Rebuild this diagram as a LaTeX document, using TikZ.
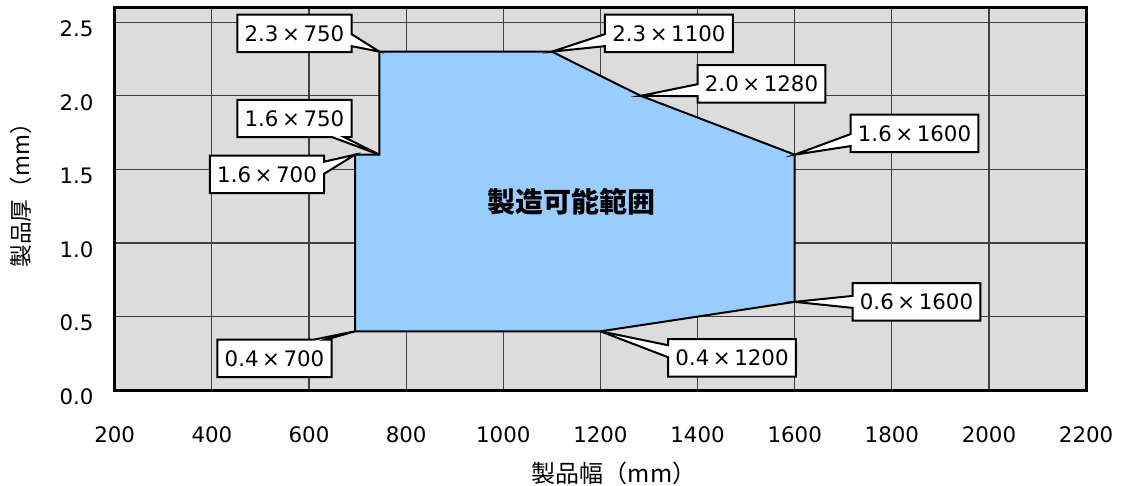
\documentclass[tikz,border=0pt]{standalone}
\usepackage{fontspec}
\setmainfont{Noto Sans CJK JP}
\newfontfamily\numfont{DejaVu Sans}
\usepackage{tikz}
\usetikzlibrary{shapes.callouts}
\usetikzlibrary{positioning}
\definecolor{plotgray}{HTML}{DCDCDC}
\definecolor{regionblue}{HTML}{99CCFF}
\definecolor{gridgray}{HTML}{404040}
\tikzset{
    dimbox/.style={
           rectangle callout,
           draw=black, line width=1.5pt,
           fill=white,
           minimum height=27pt,
           inner xsep=5.5pt, inner ysep=8pt,
           callout pointer width=9pt,
           font=\numfont\fontsize{16}{18}\selectfont,
           text centered,
           },
    gridline/.style={gridgray, line width=0.8pt},
    ticklabel/.style={font=\numfont\fontsize{16}{18}\selectfont, inner sep=0pt},
}
\newcommand{\dimtext}[2]{#1\,×\,#2}

\begin{document}
\begin{tikzpicture}[x=0.3643pt,y=110.4pt]
      \useasboundingbox (-36.2,-0.650) rectangle (2298.6,2.651);
      \fill[plotgray] (200,0) rectangle (2200,2.6);
      \foreach \x in {400,600,...,2000}
        \draw[gridline] (\x,0) -- (\x,2.6);
      \foreach \y in {0.5,1.0,1.5,2.0,2.5}
        \draw[gridline] (200,\y) -- (2200,\y);
      % vertices of the region
      \coordinate (v_0) at (695,0.4);
      \coordinate (v_1) at (695,1.6);
      \coordinate (v_2) at (745,1.6);
      \coordinate (v_3) at (745,2.3);
      \coordinate (v_4) at (1100,2.3);
      \coordinate (v_5) at (1283,2.0);
      \coordinate (v_6) at (1600,1.6);
      \coordinate (v_7) at (1600,0.6);
      \coordinate (v_8) at (1200,0.4);
      \draw[fill=regionblue, line width=1.5pt, line join=miter]
        (v_0) -- (v_1) -- (v_2) -- (v_3) -- (v_4) -- (v_5) -- (v_6) -- (v_7) -- (v_8) -- cycle;
      \draw[line width=2.25pt] (200,0) rectangle (2200,2.6);
      \node[font=\bfseries\fontsize{21}{23}\selectfont] (area) at (1139.5,1.279) {製造可能範囲};
      % tick labels
      \foreach \x in {200,400,...,2200}
        \node[ticklabel] at (\x,-0.304) {\x};
      \foreach \y in {0.0,0.5,1.0,1.5,2.0,2.5}
        \node[ticklabel, anchor=east] at (157,\y-0.045) {\y};
      \node[font=\fontsize{18}{20}\selectfont] (xlab) at (1228,-0.562) {製品幅（mm）};
      \node[font=\fontsize{17}{19}\selectfont, rotate=90] (ylab) at (7,1.361) {製品厚（mm）};
      % callouts
      \node[dimbox, callout absolute pointer={(v_3)}] (l_3) at (570,2.424)  {\dimtext{2.3}{750}};
      \node[dimbox, callout absolute pointer={(v_2)}] (l_2) at (570,1.846)  {\dimtext{1.6}{750}};
      \node[dimbox, callout absolute pointer={(v_1)}] (l_1) at (513.6,1.466) {\dimtext{1.6}{700}};
      \node[dimbox, callout absolute pointer={(v_0)}] (l_0) at (529,0.216)  {\dimtext{0.4}{700}};
      \node[dimbox, callout absolute pointer={(v_4)}] (l_4) at (1341,2.424) {\dimtext{2.3}{1100}};
      \node[dimbox, callout absolute pointer={(v_5)}] (l_5) at (1531.7,2.081) {\dimtext{2.0}{1280}};
      \node[dimbox, callout absolute pointer={(v_6)}] (l_6) at (1846.7,1.745) {\dimtext{1.6}{1600}};
      \node[dimbox, callout absolute pointer={(v_7)}] (l_7) at (1850.8,0.600) {\dimtext{0.6}{1600}};
      \node[dimbox, callout absolute pointer={(v_8)}] (l_8) at (1471,0.219) {\dimtext{0.4}{1200}};
\end{tikzpicture}
\end{document}
